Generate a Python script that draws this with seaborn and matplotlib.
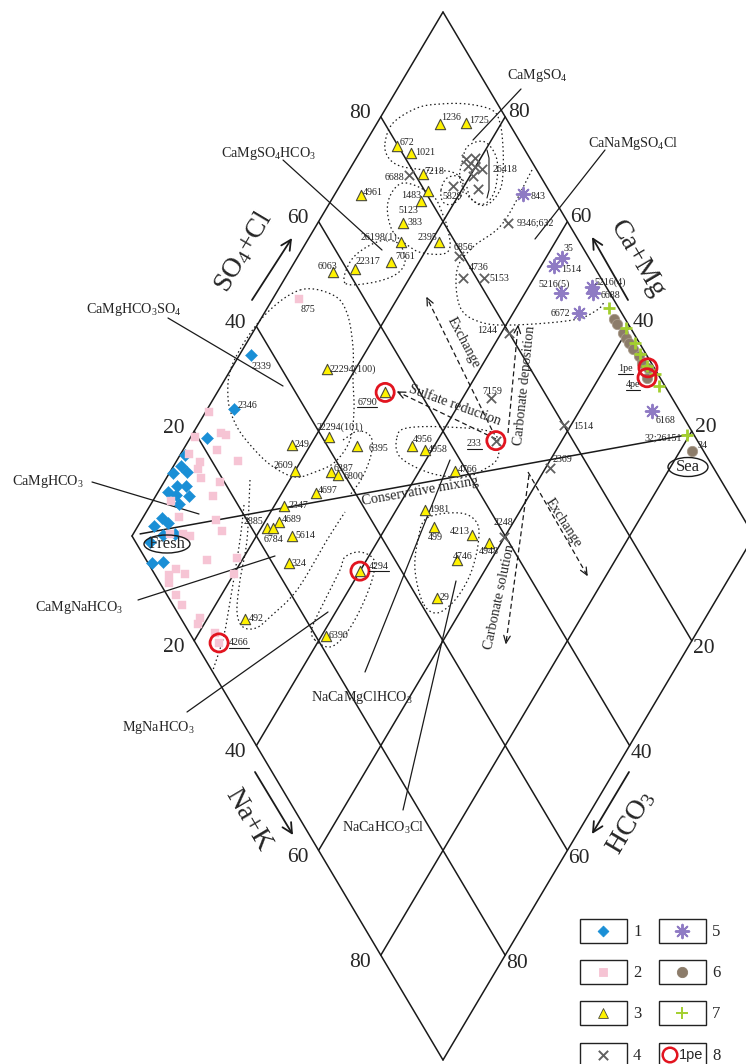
import numpy as np
import pandas as pd
import matplotlib
matplotlib.use("Agg")
import matplotlib.pyplot as plt
import seaborn as sns
from matplotlib.patches import Ellipse, Rectangle

sns.set_theme(style="white")
plt.rcParams['font.family'] = ['Liberation Serif', 'DejaVu Serif']
plt.rcParams['mathtext.fontset'] = 'custom'
plt.rcParams['mathtext.rm'] = 'Liberation Serif'
plt.rcParams['mathtext.it'] = 'Liberation Serif:italic'

# ---------------------------------------------------------------- data
# values are percent of meq: (Ca+Mg) and (SO4+Cl)
g1_id   = ["2339", "2346"] + [""] * 19
g1_camg = [98.1, 95.7, 97.3, 99.3, 98.8, 97.3, 99.4, 97.5, 96.1, 98.4, 96.9,
           94.7, 95.5, 96.9, 95.4, 97.4, 93.3, 96.5, 95.1, 94.2, 92.5]
g1_so4  = [36.4, 28.5, 21.4, 16.2, 14.6, 15.0, 12.6, 12.0, 13.5, 10.0, 11.0,
           13.0, 10.6, 6.5, 7.0, 4.5, 7.1, 2.3, 5.1, 0.6, 2.5]

g2_id   = ["875"] + [""] * 31 + ["4266"]
g2_camg = [95.8, 99.4, 99.2, 95.5, 94.5, 94.6, 98.7, 96.1, 90.1, 95.7, 94.4,
           91.0, 90.8, 97.1, 94.3, 88.0, 86.0, 90.7, 92.0, 94.1, 85.7, 81.0,
           89.8, 90.3, 87.8, 89.6, 80.0, 87.3, 85.4, 81.2, 81.0, 77.4, 75.8]
g2_so4  = [49.5, 24.2, 19.6, 24.1, 24.7, 21.9, 17.0, 18.0, 24.2, 17.0, 16.6,
           19.4, 16.9, 9.6, 9.4, 15.0, 15.0, 9.3, 8.4, 6.3, 9.8, 14.8,
           3.9, 2.2, 4.9, 1.5, 12.7, 1.4, 1.5, 3.1, 2.2, 4.0, 3.8]

g3_id   = ["1236", "1725", "672", "1021", "7218", "1483", "5123", "383", "4961",
           "26198(1)", "2395", "7061", "6063", "22317", "22294(100)", "22294(101)",
           "249", "6395", "2609", "6387", "6800", "4697", "2347", "4689", "6784", "",
           "5614", "324", "492", "6390", "4294", "6790", "4956", "4958", "4766",
           "1981", "499", "4213", "4948", "4746", "29"]
g3_camg = [89.8, 85.8, 94.6, 91.7, 87.8, 85.3, 85.5, 86.3, 95.7, 84.8, 78.7, 84.5,
           92.8, 89.6, 84.6, 77.8, 83.0, 72.4, 80.0, 74.1, 72.7, 74.6, 78.4, 77.7,
           79.0, 78.1, 74.3, 72.2, 73.9, 59.3, 60.0, 73.0, 63.6, 61.1, 54.3, 55.4,
           52.3, 45.4, 41.9, 45.5, 45.0]
g3_so4  = [88.8, 93.1, 79.9, 81.4, 81.3, 80.5, 78.4, 73.4, 69.4, 71.3, 77.4, 67.8,
           57.5, 61.3, 47.3, 41.1, 34.4, 44.7, 32.4, 38.1, 38.9, 33.7, 27.3, 25.0,
           22.5, 23.4, 25.7, 22.6, 10.2, 21.7, 33.3, 54.4, 53.6, 55.3, 58.2, 49.6,
           49.4, 54.8, 56.7, 50.0, 43.1]

g4_id   = [""] * 7 + ["6688", "5829", "9346;632", "6856", "4736", "5153", "1244",
                      "7159", "233", "1514", "2369", "2248"]
g4_camg = [82.3, 81.0, 81.3, 80.1, 78.8, 79.5, 77.5, 89.9, 81.8, 69.4, 74.1, 71.4,
           68.0, 58.8, 55.4, 50.6, 41.1, 39.2, 40.1]
g4_so4  = [89.7, 91.2, 89.3, 90.4, 91.3, 89.2, 88.8, 79.0, 85.0, 90.3, 79.3, 77.8,
           81.2, 80.0, 70.9, 67.6, 80.0, 73.7, 59.7]

g5_id   = ["843", "35", "1514", "5216(5)", "5216(4)", "6688", "6672", "6168"]
g5_camg = [69.8, 57.4, 57.9, 54.2, 49.8, 49.0, 49.4, 28.3]
g5_so4  = [95.5, 95.6, 93.6, 92.1, 97.7, 97.3, 93.1, 95.5]

g6_id   = [""] * 9 + ["4pe", "34"]
g6_camg = [43.2, 42.3, 40.4, 39.5, 38.5, 37.3, 35.7, 34.5, 33.1, 32.3, 18.1]
g6_so4  = [98.2, 98.2, 98.3, 98.3, 98.3, 98.4, 98.7, 98.5, 99.0, 97.9, 98.2]

g7_id   = [""] * 7 + ["32;26151"]
g7_camg = [45.1, 40.4, 37.6, 35.7, 33.4, 31.4, 29.6, 20.4]
g7_so4  = [98.5, 99.2, 99.3, 99.0, 99.0, 99.6, 99.1, 98.9]

g8_id   = ["6790", "233", "4294", "4266", "1pe", "4pe"]
g8_camg = [73.0, 50.6, 60.0, 75.8, 33.1, 32.3]
g8_so4  = [54.4, 67.6, 33.3, 3.8, 99.0, 97.9]

fresh_end = (98.9, 1.5)     # (Ca+Mg, SO4+Cl) of the fresh-water end member
sea_end = (20.4, 98.9)      # seawater end member

grid_vals = [20, 40, 60, 80]

# ---------------------------------------------------------------- geometry
X0, Y0, HW, HH = 443.0, 1060.0, 311.0, 524.0   # bottom vertex, half width, half height


def dxy(camg, so4):
    c = np.asarray(camg, float) / 100.0
    s = np.asarray(so4, float) / 100.0
    return X0 + HW * (s - c), Y0 - HH * (s + c)


fig = plt.figure(figsize=(7.46, 10.64), dpi=100)
ax = fig.add_axes([0, 0, 1, 1])
ax.set_xlim(0, 746)
ax.set_ylim(1064, 0)
ax.axis('off')

LW = 1.1
# outline and grid of the diamond
for v in [0] + grid_vals + [100]:
    x, y = dxy([v, v], [0, 100])
    ax.plot(x, y, color='k', lw=LW, zorder=1)
    x, y = dxy([0, 100], [v, v])
    ax.plot(x, y, color='k', lw=LW, zorder=1)

# tick numbers on the four edges
for v in grid_vals:
    x, y = dxy(100, v)          # SO4+Cl, upper left
    ax.text(x - 10, y - 3, str(v), ha='right', va='center', fontsize=15.5)
    x, y = dxy(v, 100)          # Ca+Mg, upper right
    ax.text(x + 3, y - 4, str(v), ha='left', va='center', fontsize=15.5)
    x, y = dxy(100 - v, 0)      # Na+K, lower left
    ax.text(x - 10, y + 7, str(v), ha='right', va='center', fontsize=15.5)
    x, y = dxy(0, 100 - v)      # HCO3, lower right
    ax.text(x + 1, y + 8, str(v), ha='left', va='center', fontsize=15.5)

ANG = np.degrees(np.arctan2(HH, HW))
ax.text(243, 252, r"SO$_4$+Cl", rotation=ANG, ha='center', va='center', fontsize=20)
ax.text(637, 259, "Ca+Mg", rotation=-ANG, ha='center', va='center', fontsize=20)
ax.text(248, 820, "Na+K", rotation=-ANG, ha='center', va='center', fontsize=20)
ax.text(631, 822, r"HCO$_3$", rotation=ANG, ha='center', va='center', fontsize=20)

axis_arrows = [((252, 300), (292, 238)), ((628, 300), (592, 237)),
               ((255, 772), (293, 835)), ((629, 772), (592, 834))]
for frm, tip in axis_arrows:
    ax.annotate('', xy=tip, xytext=frm,
                arrowprops=dict(arrowstyle='->', lw=1.3, color='k',
                                mutation_scale=18, shrinkA=0, shrinkB=0))

# ---------------------------------------------------------------- envelopes


def closed_curve(pts, n=300):
    p = np.asarray(pts, float)
    m = len(p)
    out = []
    for i in range(m):
        p0, p1, p2, p3 = p[i - 1], p[i], p[(i + 1) % m], p[(i + 2) % m]
        t = np.linspace(0, 1, n // m, endpoint=False)[:, None]
        out.append(0.5 * ((2 * p1) + (-p0 + p2) * t + (2 * p0 - 5 * p1 + 4 * p2 - p3) * t ** 2
                          + (-p0 + 3 * p1 - 3 * p2 + p3) * t ** 3))
    out = np.vstack(out + [out[0][:1]])
    return out[:, 0], out[:, 1]


def open_curve(pts, n=200):
    p = np.asarray(pts, float)
    p = np.vstack([2 * p[0] - p[1], p, 2 * p[-1] - p[-2]])
    out = []
    for i in range(1, len(p) - 2):
        p0, p1, p2, p3 = p[i - 1], p[i], p[i + 1], p[i + 2]
        t = np.linspace(0, 1, max(6, n // (len(p) - 3)))[:, None]
        out.append(0.5 * ((2 * p1) + (-p0 + p2) * t + (2 * p0 - 5 * p1 + 4 * p2 - p3) * t ** 2
                          + (-p0 + 3 * p1 - 3 * p2 + p3) * t ** 3))
    out = np.vstack(out)
    return out[:, 0], out[:, 1]


DOT = dict(color='k', lw=0.9, ls=(0, (1.2, 2.2)), zorder=2)
closed_env = [
    # upper SO4 group
    [(385, 143), (393, 123), (417, 108), (440, 104), (467, 104), (492, 110), (500, 123),
     (503, 147), (503, 173), (500, 190), (490, 203), (480, 205), (470, 197), (465, 183),
     (452, 172), (425, 170), (400, 166), (388, 157)],
    # 26418 cluster
    [(462, 162), (468, 146), (485, 142), (497, 160), (495, 190), (484, 204), (470, 198), (460, 180)],
    # 5829
    [(441, 190), (447, 178), (460, 177), (463, 192), (453, 204), (443, 202)],
    # 1483 / 383 / 2395
    [(403, 183), (388, 202), (392, 230), (410, 247), (423, 253), (443, 254), (450, 247),
     (448, 230), (443, 215), (432, 195)],
    # 26198 / 22317 / 7061
    [(345, 283), (350, 262), (365, 248), (385, 240), (400, 245), (405, 262), (395, 275), (370, 283)],
    # 875 / 22294(100) / 249 / 2346
    [(300, 290), (333, 295), (347, 313), (353, 347), (353, 380), (354, 410), (350, 440),
     (335, 462), (315, 472), (295, 477), (272, 466), (252, 447), (236, 425), (228, 398),
     (233, 363), (263, 317)],
    # 4956 / 4958 / 4766 / 233
    [(397, 437), (407, 428), (447, 427), (493, 433), (498, 457), (483, 470), (463, 477),
     (430, 473), (400, 457)],
    # 4213 / 4746 / 29
    [(423, 603), (415, 570), (418, 540), (427, 518), (460, 513), (477, 523), (478, 545),
     (470, 575), (455, 600), (437, 613)],
    # 4294 / 6390
    [(315, 640), (312, 628), (325, 600), (340, 570), (345, 557), (360, 552), (374, 560),
     (372, 580), (360, 610), (345, 635), (330, 647)],
]
for pts in closed_env:
    x, y = closed_curve(pts)
    ax.plot(x, y, **DOT)

open_env = [
    # large CaNaMgSO4Cl group
    [(532, 170), (503, 223), (473, 247), (457, 270), (460, 307), (480, 322), (513, 325),
     (573, 320), (597, 310), (605, 301)],
    # 22294(101) / 6395
    [(343, 440), (358, 431), (371, 437), (371, 455), (362, 478), (350, 495)],
    # 492 / 324
    [(250, 480), (247, 540), (240, 580), (237, 612), (243, 627), (256, 628), (270, 617),
     (297, 590), (327, 540), (345, 512)],
    # 4266 side line
    [(244, 505), (240, 540), (232, 590), (224, 635), (213, 670)],
]
for pts in open_env:
    x, y = open_curve(pts)
    ax.plot(x, y, **DOT)

# ---------------------------------------------------------------- points
groups = [
    dict(ids=g1_id, c=g1_camg, s=g1_so4, marker='D', color='#1a8fd6', size=38, ec='#1a8fd6', lw=0.3),
    dict(ids=g2_id, c=g2_camg, s=g2_so4, marker='s', color='#f6c4d4', size=40, ec='#f6c4d4', lw=0.3),
    dict(ids=g3_id, c=g3_camg, s=g3_so4, marker='^', color='#fff200', size=55, ec='#4a4a3a', lw=0.8),
    dict(ids=g4_id, c=g4_camg, s=g4_so4, marker='x', color='#606060', size=45, ec='#606060', lw=1.3),
    dict(ids=g5_id, c=g5_camg, s=g5_so4, marker=(8, 2, 0), color='#8f7bc4', size=95, ec='#8f7bc4', lw=1.4),
    dict(ids=g6_id, c=g6_camg, s=g6_so4, marker='o', color='#8c7c6a', size=55, ec='#a89a8a', lw=0.6),
    dict(ids=g7_id, c=g7_camg, s=g7_so4, marker='+', color='#a3cf2f', size=80, ec='#a3cf2f', lw=2.0),
]
for k, g in enumerate(groups):
    x, y = dxy(g['c'], g['s'])
    df = pd.DataFrame({'x': x, 'y': y})
    kw = dict(data=df, x='x', y='y', marker=g['marker'], s=g['size'], color=g['color'],
              linewidth=g['lw'], ax=ax, legend=False, zorder=5 + k * 0.1)
    if g['marker'] not in ('x', '+', (8, 2, 0)):
        kw['edgecolor'] = g['ec']
    sns.scatterplot(**kw)

x8, y8 = dxy(g8_camg, g8_so4)
sns.scatterplot(x=x8, y=y8, marker='o', s=170, facecolor='none', edgecolor='#e2141f',
                linewidth=2.0, ax=ax, legend=False, zorder=7)

# ---------------------------------------------------------------- sample labels
# (dx, dy, ha) offsets in pixels from the marker
lbl_off = {
    3: {"1236": (1, -7, 'left'), "1725": (3, -2, 'left'), "672": (2, -3, 'left'),
        "1021": (4, 0, 'left'), "7218": (2, -2, 'left'), "1483": (-7, 4, 'right'),
        "5123": (-3, 9, 'right'), "383": (5, -1, 'left'), "4961": (2, -2, 'left'),
        "26198(1)": (-4, -5, 'right'), "2395": (-2, -5, 'right'), "7061": (4, -5, 'left'),
        "6063": (4, -6, 'right'), "22317": (1, -8, 'left'), "22294(100)": (3, 0, 'left'),
        "22294(101)": (-12, -10, 'left'), "249": (3, 0, 'left'), "6395": (12, 2, 'left'),
        "2609": (-2, -6, 'right'), "6387": (3, -4, 'left'), "6800": (6, 1, 'left'),
        "4697": (2, -2, 'left'), "2347": (4, -1, 'left'), "4689": (3, -2, 'left'),
        "6784": (6, 11, 'center'), "5614": (4, -1, 'left'), "324": (3, 0, 'left'),
        "492": (4, -1, 'left'), "6390": (3, 0, 'left'), "4294": (9, -5, 'left'),
        "6790": (-8, 10, 'right'), "4956": (1, -6, 'left'), "4958": (3, -1, 'left'),
        "4766": (3, -1, 'left'), "1981": (4, 0, 'left'), "499": (1, 10, 'center'),
        "4213": (-2, -3, 'right'), "4948": (0, 8, 'center'), "4746": (-4, -3, 'left'),
        "29": (2, -1, 'left')},
    4: {"6688": (-5, 3, 'right'), "5829": (-1, 11, 'center'), "9346;632": (9, 0, 'left'),
        "6856": (-6, -9, 'left'), "4736": (6, -11, 'left'), "5153": (5, 0, 'left'),
        "1244": (-12, -2, 'right'), "7159": (1, -7, 'center'), "233": (-14, 3, 'right'),
        "1514": (9, 1, 'left'), "2369": (2, -9, 'left'), "2248": (-1, -15, 'center')},
    5: {"843": (8, 3, 'left'), "35": (2, -10, 'left'), "1514": (7, 3, 'left'),
        "5216(5)": (9, -9, 'right'), "5216(4)": (2, -5, 'left'), "6688": (7, 2, 'left'),
        "6672": (-9, 0, 'right'), "6168": (4, 9, 'left')},
    1: {"2339": (0, 11, 'left'), "2346": (4, -4, 'left')},
    2: {"875": (2, 11, 'left'), "4266": (10, 0, 'left')},
    6: {"4pe": (-7, 7, 'right'), "34": (5, -5, 'left')},
    7: {"32;26151": (-5, 3, 'right')},
    8: {"1pe": (-15, 1, 'right')},
}
underlined = {"6790", "233", "4294", "4266", "1pe", "4pe"}
all_groups = {1: (g1_id, g1_camg, g1_so4), 2: (g2_id, g2_camg, g2_so4),
              3: (g3_id, g3_camg, g3_so4), 4: (g4_id, g4_camg, g4_so4),
              5: (g5_id, g5_camg, g5_so4), 6: (g6_id, g6_camg, g6_so4),
              7: (g7_id, g7_camg, g7_so4), 8: (g8_id, g8_camg, g8_so4)}
LBL_FS = 7.2
label_texts = []
for gk, offs in lbl_off.items():
    ids, cc, ss = all_groups[gk]
    for i, name in enumerate(ids):
        if name in offs:
            x, y = dxy(cc[i], ss[i])
            dx, dy, ha = offs[name]
            t = ax.text(x + dx, y + dy, name, ha=ha, va='center', fontsize=LBL_FS,
                        color='#222222', zorder=8)
            if name in underlined:
                label_texts.append(t)

ax.text(493, 170, "26418", ha='left', va='center', fontsize=LBL_FS, color='#222222')
ax.plot([487, 489, 489, 487], [150, 158, 190, 198], color='k', lw=0.8)
ax.text(253, 521, "2885", ha='center', va='center', fontsize=LBL_FS, color='#222222')

# ---------------------------------------------------------------- mixing line and end members
xf, yf = dxy(*fresh_end)
xs, ys = dxy(*sea_end)
ax.plot([xf, xs], [yf, ys], color='k', lw=LW, zorder=3)
ax.add_patch(Ellipse((167, 544), 46, 18, fill=False, ec='k', lw=1.0, zorder=6))
ax.text(167, 544, "Fresh", ha='center', va='center', fontsize=12, zorder=6)
ax.add_patch(Ellipse((688, 467), 40, 19, fill=False, ec='k', lw=1.0, zorder=6))
ax.text(688, 467, "Sea", ha='center', va='center', fontsize=12, zorder=6)

# ---------------------------------------------------------------- water type callouts
ANN_FS = 10.2
callouts = [
    (r"CaMgSO$_4$", (537, 76), [(521, 89), (473, 140)]),
    (r"CaMgSO$_4$HCO$_3$", (269, 153), [(283, 160), (382, 250)]),
    (r"CaNaMgSO$_4$Cl", (633, 143), [(605, 150), (535, 239)]),
    (r"CaMgHCO$_3$SO$_4$", (134, 310), [(168, 318), (283, 386)]),
    (r"CaMgHCO$_3$", (48, 482), [(92, 482), (199, 514)]),
    (r"CaMgNaHCO$_3$", (79, 608), [(138, 600), (275, 556)]),
    (r"MgNaHCO$_3$", (158, 728), [(187, 712), (328, 612)]),
    (r"NaCaMgClHCO$_3$", (362, 698), [(365, 672), (450, 460)]),
    (r"NaCaHCO$_3$Cl", (383, 828), [(403, 810), (456, 581)]),
]
for txt, pos, seg in callouts:
    ax.text(pos[0], pos[1], txt, ha='center', va='center', fontsize=ANN_FS, zorder=6)
    (xa, ya), (xb, yb) = seg
    ax.plot([xa, xb], [ya, yb], color='k', lw=0.9, zorder=3)

# ---------------------------------------------------------------- process arrows


def dashed_arrow(frm, tip, size=8, ang=24):
    ax.plot([frm[0], tip[0]], [frm[1], tip[1]], color='k', lw=0.9, ls=(0, (4, 2.5)), zorder=4)
    d = np.array(tip, float) - np.array(frm, float)
    d /= np.hypot(*d)
    for sg in (1, -1):
        a = np.radians(ang * sg)
        R = np.array([[np.cos(a), -np.sin(a)], [np.sin(a), np.cos(a)]])
        v = R @ (-d) * size
        ax.plot([tip[0], tip[0] + v[0]], [tip[1], tip[1] + v[1]], color='k', lw=0.9, zorder=4)


dashed_arrow((492, 430), (427, 298))
dashed_arrow((496, 439), (398, 392))
dashed_arrow((508, 433), (518, 326))
dashed_arrow((529, 475), (506, 643))
dashed_arrow((528, 472), (587, 575))

ax.text(463, 343, "Exchange", rotation=-62, ha='center', va='center', fontsize=ANN_FS)
ax.text(455, 405, "Sulfate reduction", rotation=-20, ha='center', va='center', fontsize=ANN_FS)
ax.text(525, 386, "Carbonate deposition", rotation=84, ha='center', va='center', fontsize=ANN_FS)
ax.text(420, 491, "Conservative mixing", rotation=10, ha='center', va='center', fontsize=ANN_FS)
ax.text(563, 523, "Exchange", rotation=-57, ha='center', va='center', fontsize=ANN_FS)
ax.text(500, 597, "Carbonate solution", rotation=78, ha='center', va='center', fontsize=ANN_FS)

# ---------------------------------------------------------------- legend boxes
leg_rows = [931, 972, 1013, 1055]
leg_cols = [580, 659]
leg_items = [('D', '#1a8fd6', 30), ('s', '#f6c4d4', 34), ('^', '#fff200', 50), ('x', '#606060', 45),
             ((8, 2, 0), '#8f7bc4', 95), ('o', '#8c7c6a', 55), ('+', '#a3cf2f', 80), ('o', 'none', 150)]
for k, (mk, col, sz) in enumerate(leg_items):
    cx = leg_cols[k // 4]
    cy = leg_rows[k % 4]
    ax.add_patch(Rectangle((cx, cy - 12), 47, 24, fill=False, ec='#222222', lw=1.0, zorder=5))
    ax.text(cx + 53, cy + 1, str(k + 1), ha='left', va='center', fontsize=12)
    mx = cx + 23 if k < 7 else cx + 11
    if k == 7:
        ax.scatter([mx], [cy], marker='o', s=110, facecolor='none', edgecolor='#e2141f',
                   linewidth=1.8, zorder=6)
        ax.text(cx + 20, cy, "1pe", ha='left', va='center', fontsize=10.5,
                family='Liberation Sans', zorder=6)
    elif mk in ('x', '+', (8, 2, 0)):
        ax.scatter([mx], [cy], marker=mk, s=sz, color=col, linewidth=1.4, zorder=6)
    else:
        ax.scatter([mx], [cy], marker=mk, s=sz, color=col,
                   edgecolor='#4a4a3a' if mk == '^' else col, linewidth=0.6, zorder=6)

# underline some sample numbers
fig.canvas.draw()
inv = ax.transData.inverted()
for t in label_texts:
    bb = t.get_window_extent()
    (xa, ya), (xb, yb) = inv.transform([(bb.x0, bb.y0), (bb.x1, bb.y1)])
    ax.plot([xa, xb], [ya + 0.5, ya + 0.5], color='k', lw=0.8, zorder=8)

fig.savefig("out.png", dpi=100)
